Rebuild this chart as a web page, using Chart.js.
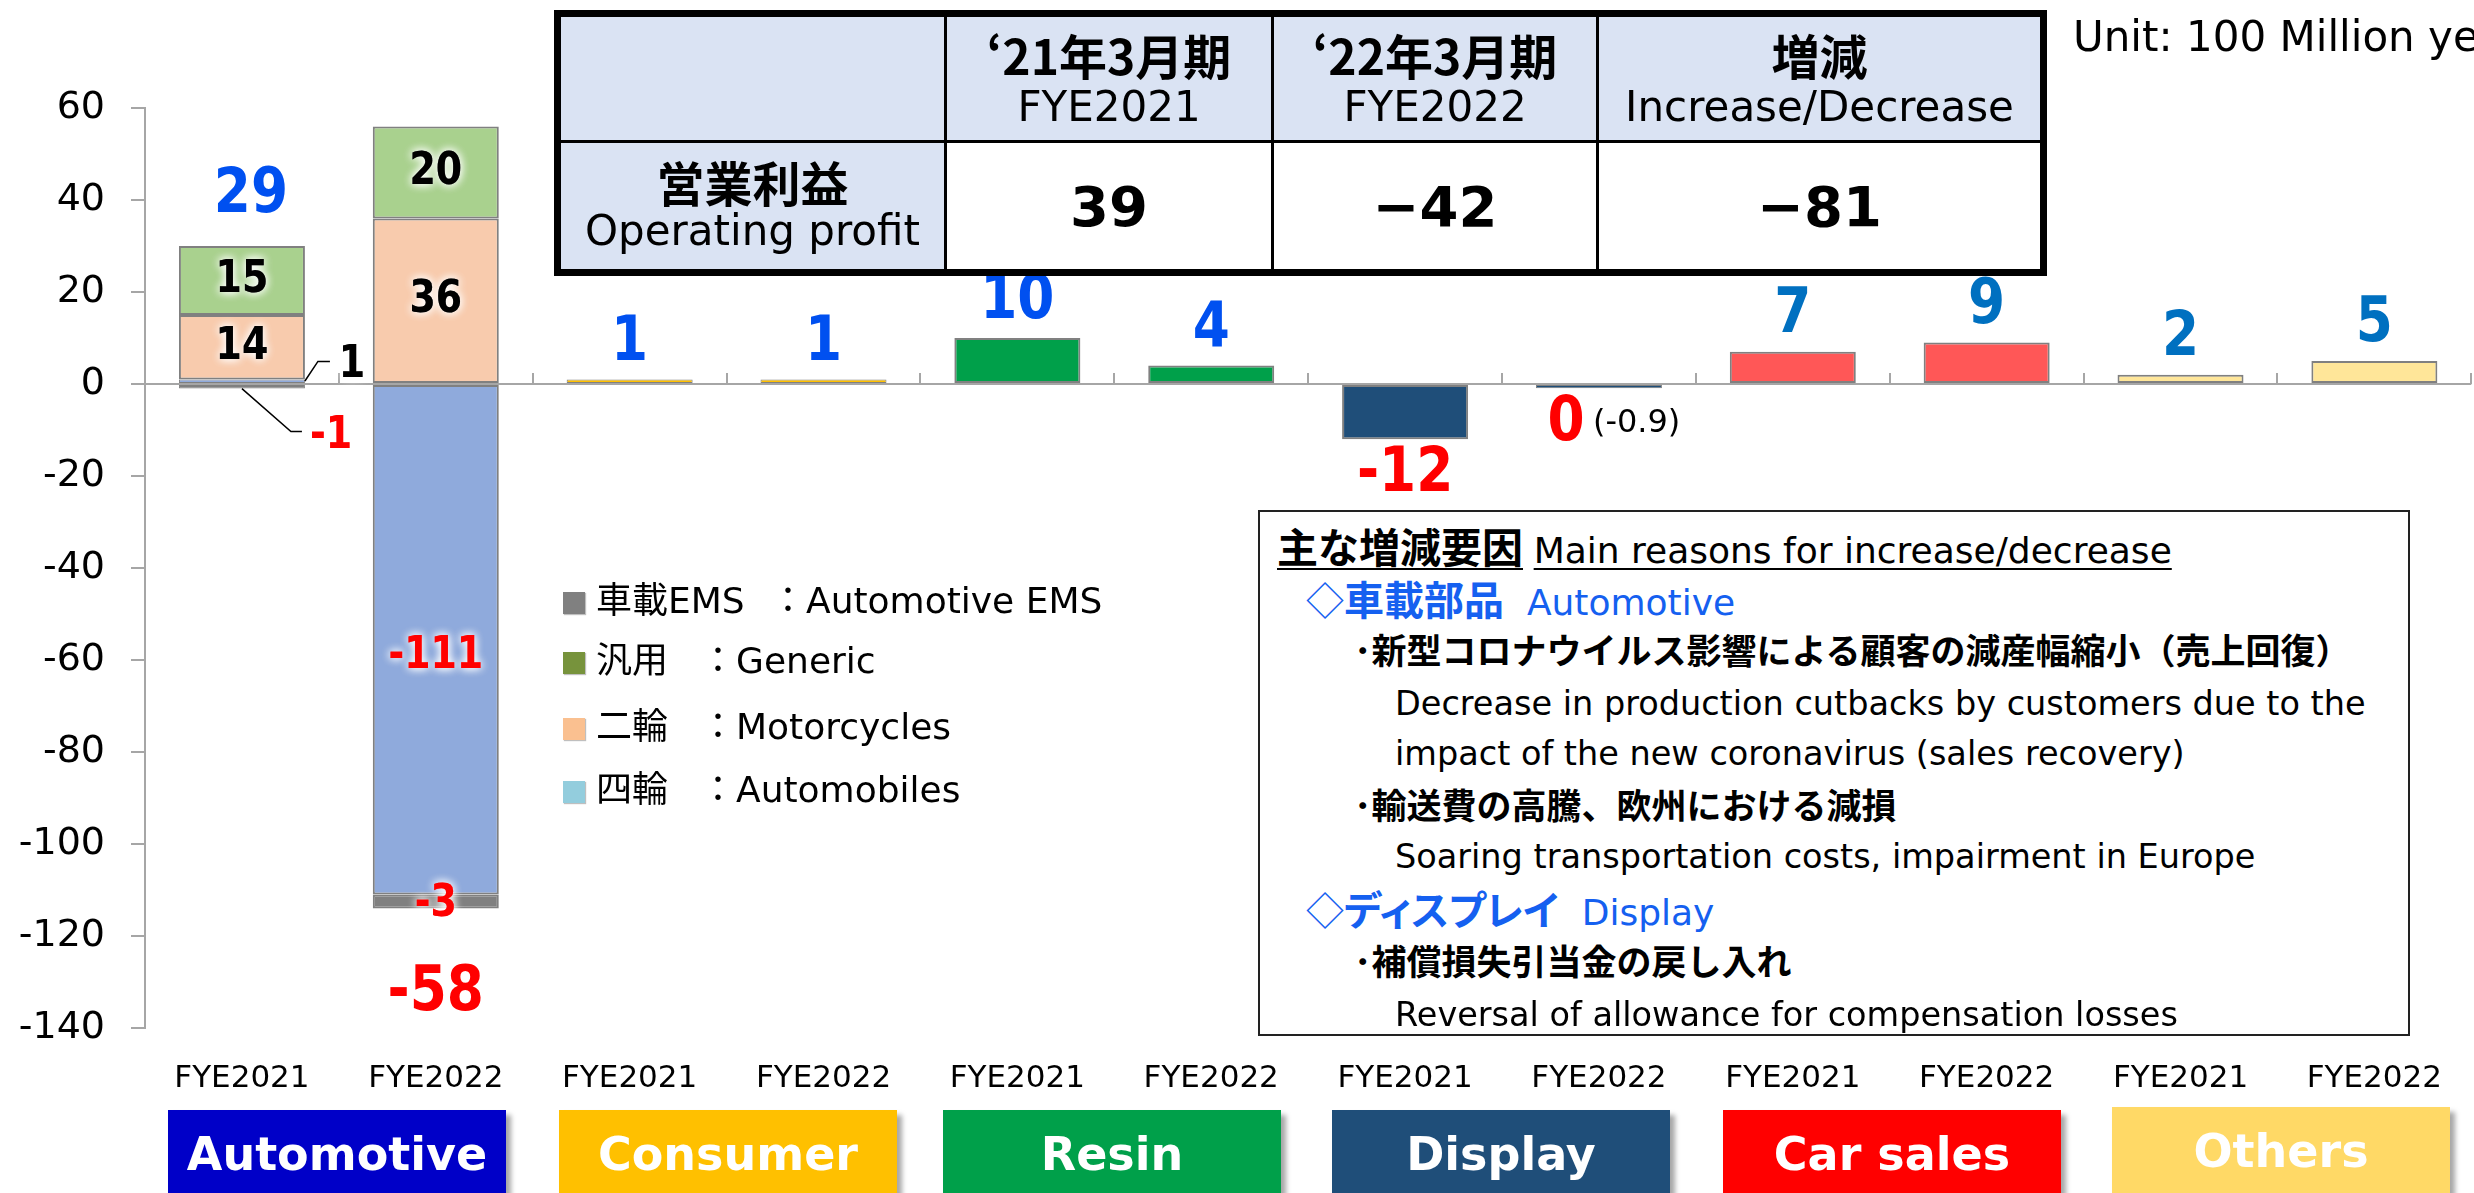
<!DOCTYPE html>
<html lang="ja">
<head>
<meta charset="utf-8">
<title>Operating profit by segment</title>
<script src="https://cdn.jsdelivr.net/npm/chart.js@4.4.1/dist/chart.umd.min.js"></script>
<style>
  html, body { margin: 0; padding: 0; background: #fff; }
  body { width: 2474px; height: 1193px; overflow: hidden; position: relative;
         font-family: "DejaVu Sans", "Noto Sans CJK JP", sans-serif; color: #000; }
  #chart { position: absolute; left: 0; top: 0; }
  .jp { font-family: "Noto Sans CJK JP", sans-serif; }

  #unit { position: absolute; left: 2073px; top: 12px; font-size: 42px; line-height: 50px; white-space: nowrap; }

  #profit { position: absolute; left: 554px; top: 10px; width: 1486px; height: 259px;
            border-collapse: collapse; table-layout: fixed; border: 7px solid #000; }
  #profit td { border: 3px solid #000; text-align: center; vertical-align: middle; padding: 0; }
  #profit .head { background: #DAE3F3; }
  #profit .val { background: #fff; font-weight: bold; font-size: 56px; }
  #profit .h1 { font-family: "Noto Sans CJK JP", sans-serif; font-weight: bold; font-size: 48px; line-height: 56px; }
  #profit .h2 { font-size: 42px; line-height: 50px; }

  .legend { position: absolute; left: 563px; font-size: 36px; line-height: 44px; white-space: nowrap; }
  .legend i { display: inline-block; width: 22px; height: 22px; margin-right: 11px; vertical-align: -1px;
              box-shadow: 1px 1px 1px rgba(0,0,0,0.25); }
  .legend .k { display: inline-block; width: 104px; font-family: "Noto Sans CJK JP", sans-serif; }
  .legend .k em { font-style: normal; font-family: "DejaVu Sans", sans-serif; }
  .legend .c { font-family: "Noto Sans CJK JP", sans-serif; }

  #notes { position: absolute; left: 1258px; top: 510px; width: 1148px; height: 522px;
           border: 2px solid #222; background: #fff; }
  .ln { position: absolute; white-space: nowrap; font-size: 33.5px; line-height: 50px; }
  .ln u { text-decoration-thickness: 2px; text-underline-offset: 5px; }
  .blue { color: #1560F0; }
  .jb { font-family: "Noto Sans CJK JP", sans-serif; font-weight: bold; font-size: 35px; }
  .hd { font-family: "Noto Sans CJK JP", sans-serif; font-weight: bold; font-size: 40px; }
  .palt { font-feature-settings: "palt" 1; }

  .seg { position: absolute; top: 1110px; width: 338px; height: 100px; color: #fff;
         font-weight: bold; font-size: 46px; line-height: 88px; text-align: center;
         box-shadow: 5px 5px 5px rgba(0,0,0,0.35); }
</style>
</head>
<body>
<canvas id="chart" width="2474" height="1193"></canvas>

<div id="unit">Unit: 100 Million yen</div>

<table id="profit">
  <colgroup><col style="width:388px"><col style="width:327px"><col style="width:325px"><col style="width:446px"></colgroup>
  <tr style="height:128px">
    <td class="head"></td>
    <td class="head"><div class="h1">‘21年3月期</div><div class="h2">FYE2021</div></td>
    <td class="head"><div class="h1">‘22年3月期</div><div class="h2">FYE2022</div></td>
    <td class="head"><div class="h1">増減</div><div class="h2">Increase/Decrease</div></td>
  </tr>
  <tr style="height:131px">
    <td class="head"><div class="h1" style="line-height:50px">営業利益</div><div class="h2">Operating profit</div></td>
    <td class="val" id="v0"></td>
    <td class="val" id="v1"></td>
    <td class="val" id="v2"></td>
  </tr>
</table>

<div class="legend" style="top:575px"><i style="background:#808080"></i><span class="k" style="width:174px">車載<em>EMS</em></span><span class="c">：</span>Automotive EMS</div>
<div class="legend" style="top:635px"><i style="background:#77933C"></i><span class="k">汎用</span><span class="c">：</span>Generic</div>
<div class="legend" style="top:701px"><i style="background:#FAC090"></i><span class="k">二輪</span><span class="c">：</span>Motorcycles</div>
<div class="legend" style="top:764px"><i style="background:#93CDDD"></i><span class="k">四輪</span><span class="c">：</span>Automobiles</div>

<div id="notes"></div>
<div class="ln" style="left:1277px;top:520px"><u class="hd" style="font-size:41px">主な増減要因</u> <u style="font-size:36px">Main reasons for increase/decrease</u></div>
<div class="ln blue" style="left:1306px;top:573px"><span class="jp" style="font-size:38px">◇</span><span class="hd">車載部品</span><span style="font-size:36px">&nbsp; Automotive</span></div>
<div class="ln jb" style="left:1354px;top:624px">･新型コロナウイルス影響による顧客の減産幅縮小（売上回復）</div>
<div class="ln" style="left:1395px;top:679px">Decrease in production cutbacks by customers due to the</div>
<div class="ln" style="left:1395px;top:729px">impact of the new coronavirus (sales recovery)</div>
<div class="ln jb" style="left:1354px;top:779px">･輸送費の高騰、欧州における減損</div>
<div class="ln" style="left:1395px;top:832px">Soaring transportation costs, impairment in Europe</div>
<div class="ln blue" style="left:1306px;top:883px"><span class="jp" style="font-size:38px">◇</span><span class="hd palt">ディスプレイ</span><span style="font-size:36px">&nbsp; Display</span></div>
<div class="ln jb" style="left:1354px;top:935px">･補償損失引当金の戻し入れ</div>
<div class="ln" style="left:1395px;top:990px">Reversal of allowance for compensation losses</div>

<div id="segments"></div>

<script>
// categories and segments
const categories = ['FYE2021', 'FYE2022', 'FYE2021', 'FYE2022', 'FYE2021', 'FYE2022',
                    'FYE2021', 'FYE2022', 'FYE2021', 'FYE2022', 'FYE2021', 'FYE2022'];
const segmentNames = ['Automotive', 'Consumer', 'Resin', 'Display', 'Car sales', 'Others'];

// automotive breakdown (stacked)
const automobiles   = [1, -111, null, null, null, null, null, null, null, null, null, null];
const motorcycles   = [14, 36, null, null, null, null, null, null, null, null, null, null];
const generic       = [15, 20, null, null, null, null, null, null, null, null, null, null];
const automotiveEms = [-1, -3, null, null, null, null, null, null, null, null, null, null];

// other segments
const segmentValues = [null, null, 1, 1, 10, 4, -12, -0.9, 7, 9, 2, 5];

// labels shown above / below each column
const totalLabels = ['29', '-58', '1', '1', '10', '4', '-12', '0', '7', '9', '2', '5'];
const totalNotes = {7: '(-0.9)'};

// y axis
const yMin = -140;
const yMax = 60;
const yStep = 20;

// summary table
const profitValues = ['39', '−42', '−81'];

// colors
const segmentFill = ['#0000C8', '#FFC000', '#00A04A', '#1F4E79', '#FF0000', '#FFD966'];
const barFill = [null, null, '#FFC000', '#FFC000', '#00A04A', '#00A04A',
                 '#1F4E79', '#1F4E79', '#FF5757', '#FF5757', '#FFE699', '#FFE699'];

profitValues.forEach((v, i) => { document.getElementById('v' + i).textContent = v; });

const segLeft = [168, 559, 943, 1332, 1723, 2112];
const segBox = document.getElementById('segments');
segmentNames.forEach((name, i) => {
    const d = document.createElement('div');
    d.className = 'seg';
    d.style.left = segLeft[i] + 'px';
    d.style.background = segmentFill[i];
    if (i === 5) d.style.top = '1107px';
    d.textContent = name;
    segBox.appendChild(d);
});

const FONT = '"DejaVu Sans", "Noto Sans CJK JP", sans-serif';

function drawNum(ctx, text, x, y, size, color, glow, align) {
    ctx.save();
    ctx.translate(x, y);
    ctx.scale(0.86, 1);
    ctx.font = `bold ${size}px ${FONT}`;
    ctx.textAlign = align || 'center';
    ctx.textBaseline = 'middle';
    ctx.fillStyle = color;
    if (glow) {
        ctx.shadowColor = 'rgba(255,255,255,1)';
        ctx.shadowBlur = 10;
        ctx.fillText(text, 0, 0);
    }
    ctx.fillText(text, 0, 0);
    ctx.restore();
}

// zero line + category tick marks
const axisPlugin = {
    id: 'zeroAxis',
    beforeDatasetsDraw(chart) {
        const ctx = chart.ctx;
        const xs = chart.scales.x;
        const y0 = chart.scales.y.getPixelForValue(0);
        ctx.save();
        ctx.strokeStyle = '#A6A6A6';
        ctx.lineWidth = 2;
        ctx.beginPath();
        ctx.moveTo(chart.chartArea.left - 14, y0);
        ctx.lineTo(chart.chartArea.right, y0);
        const w = (xs.right - xs.left) / categories.length;
        for (let k = 1; k <= categories.length; k++) {
            const bx = Math.round(xs.left + k * w);
            ctx.moveTo(bx, y0 - 11);
            ctx.lineTo(bx, y0);
        }
        ctx.stroke();
        ctx.restore();
    }
};

// value labels
const labelPlugin = {
    id: 'valueLabels',
    afterDatasetsDraw(chart) {
        const ctx = chart.ctx;
        const metas = chart.data.datasets.map((ds, i) => chart.getDatasetMeta(i));

        // segment labels inside the automotive stack
        [0, 1, 2, 3].forEach((di) => {
            const data = chart.data.datasets[di].data;
            data.forEach((v, i) => {
                if (v === null) return;
                const el = metas[di].data[i];
                const color = v < 0 ? '#FF0000' : '#000';
                if (Math.abs(v) > 1) {
                    drawNum(ctx, String(v), el.x, (el.y + el.base) / 2 + (v < -50 ? 17 : 0) + (v === -3 ? 3 : 0), 44, color, true);
                } else {
                    // small values: leader line
                    const right = el.x + el.width / 2;
                    ctx.save();
                    ctx.strokeStyle = '#000';
                    ctx.lineWidth = 1.5;
                    ctx.beginPath();
                    if (v > 0) {
                        ctx.moveTo(right, el.base - 2);
                        ctx.lineTo(right + 13, el.y - 18);
                        ctx.lineTo(right + 25, el.y - 18);
                        ctx.stroke();
                        ctx.restore();
                        drawNum(ctx, String(v), right + 47, el.y - 14, 44, color, true);
                    } else {
                        ctx.moveTo(el.x, el.y);
                        ctx.lineTo(el.x + 49, el.y + 43);
                        ctx.lineTo(el.x + 60, el.y + 43);
                        ctx.stroke();
                        ctx.restore();
                        drawNum(ctx, String(v), el.x + 68, el.y + 48, 44, color, true, 'left');
                    }
                }
            });
        });

        // totals
        totalLabels.forEach((txt, i) => {
            let top = Infinity, bottom = -Infinity, x = 0, sum = 0;
            metas.forEach((m, di) => {
                const v = chart.data.datasets[di].data[i];
                if (v === null || v === undefined) return;
                const el = m.data[i];
                sum += v;
                x = el.x;
                top = Math.min(top, el.y, el.base);
                bottom = Math.max(bottom, el.y, el.base);
            });
            const neg = sum < 0;
            const gap = i === 0 ? 50 : (i === 1 ? 85 : 36);
            const y = neg ? bottom + gap : top - gap;
            const color = neg ? '#FF0000' : (i < 6 ? '#0050F0' : '#0070C0');
            if (totalNotes[i]) {
                drawNum(ctx, txt, x - 33, y, 62, color, false);
                ctx.save();
                ctx.font = `32px ${FONT}`;
                ctx.textAlign = 'left';
                ctx.textBaseline = 'middle';
                ctx.fillStyle = '#000';
                ctx.fillText(totalNotes[i], x - 6, y);
                ctx.restore();
            } else {
                drawNum(ctx, txt, x + (i === 0 ? 9 : 0), y, 62, color, false);
            }
        });
    }
};

const barStyle = {
    borderColor: '#808080',
    borderWidth: (c) => (Math.abs(c.raw) <= 1.5 ? 1 : 2),
    borderSkipped: false,
    categoryPercentage: 1,
    barPercentage: 0.65
};

new Chart(document.getElementById('chart'), {
    type: 'bar',
    data: {
        labels: categories,
        datasets: [
            Object.assign({label: '四輪 Automobiles', data: automobiles, backgroundColor: '#8FAADC'}, barStyle),
            Object.assign({label: '二輪 Motorcycles', data: motorcycles, backgroundColor: '#F8CBAD'}, barStyle),
            Object.assign({label: '汎用 Generic', data: generic, backgroundColor: '#A9D18E'}, barStyle),
            Object.assign({label: '車載EMS Automotive EMS', data: automotiveEms, backgroundColor: '#808080'}, barStyle),
            Object.assign({label: 'Segment', data: segmentValues, backgroundColor: barFill}, barStyle)
        ]
    },
    options: {
        responsive: false,
        animation: false,
        devicePixelRatio: 1,
        events: [],
        layout: {padding: {top: 108, right: 0, bottom: 0, left: 0}},
        plugins: {legend: {display: false}, tooltip: {enabled: false}},
        scales: {
            x: {
                stacked: true,
                grid: {display: false, drawTicks: false},
                border: {display: false},
                ticks: {font: {size: 31, family: FONT}, color: '#000', padding: 32,
                        maxRotation: 0, autoSkip: false},
                afterFit: (scale) => { scale.height = 165; }
            },
            y: {
                stacked: true,
                min: yMin,
                max: yMax,
                ticks: {stepSize: yStep, font: {size: 38, family: FONT}, color: '#000', padding: 26},
                grid: {drawOnChartArea: false, drawTicks: true, tickLength: 14, color: '#A6A6A6', lineWidth: 2},
                border: {display: true, color: '#A6A6A6', width: 2},
                afterFit: (scale) => { scale.width = 145; }
            }
        }
    },
    plugins: [axisPlugin, labelPlugin]
});
</script>
</body>
</html>
